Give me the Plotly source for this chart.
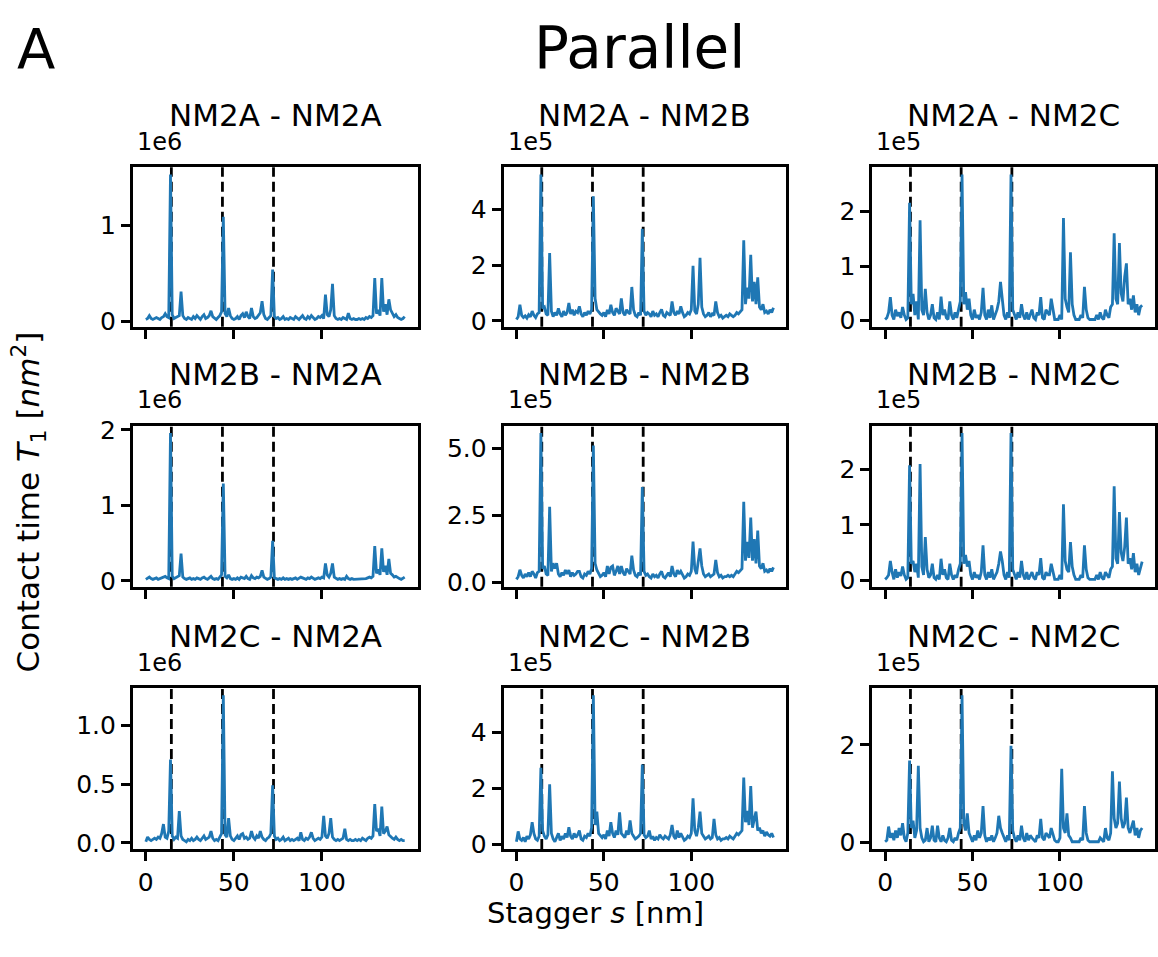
import plotly.graph_objects as go

# ---------------- data ----------------
stagger = list(range(148))  # nm

titles = ["NM2A - NM2A", "NM2A - NM2B", "NM2A - NM2C",
          "NM2B - NM2A", "NM2B - NM2B", "NM2B - NM2C",
          "NM2C - NM2A", "NM2C - NM2B", "NM2C - NM2C"]
offset_labels = ["1e6", "1e5", "1e5", "1e6", "1e5", "1e5", "1e6", "1e5", "1e5"]

# contact times, in units of the panel's offset label
t_aa = [0.02,0.03,0.06,0.03,0.02,0.03,0.04,0.03,0.02,0.04,
        0.05,0.08,0.05,0.04,1.53,0.07,0.03,0.04,0.05,0.06,
        0.31,0.06,0.03,0.02,0.04,0.03,0.02,0.05,0.03,0.06,
        0.04,0.02,0.05,0.07,0.03,0.04,0.06,0.11,0.05,0.03,
        0.02,0.04,0.06,0.10,1.09,0.08,0.05,0.14,0.06,0.03,
        0.02,0.03,0.05,0.02,0.06,0.08,0.04,0.10,0.05,0.03,
        0.14,0.05,0.03,0.04,0.06,0.09,0.21,0.07,0.03,0.02,
        0.04,0.06,0.54,0.05,0.03,0.04,0.02,0.03,0.05,0.02,
        0.03,0.02,0.04,0.03,0.02,0.05,0.03,0.02,0.04,0.06,
        0.03,0.02,0.05,0.03,0.06,0.04,0.02,0.03,0.05,0.04,
        0.06,0.03,0.28,0.07,0.05,0.12,0.39,0.06,0.03,0.02,
        0.03,0.02,0.04,0.03,0.02,0.085,0.03,0.02,0.03,0.02,
        0.02,0.03,0.02,0.03,0.02,0.04,0.03,0.05,0.04,0.06,
        0.45,0.08,0.12,0.06,0.45,0.10,0.18,0.07,0.23,0.12,
        0.09,0.05,0.07,0.04,0.03,0.02,0.03,0.05]
t_ab = [0.05,0.15,0.58,0.20,0.12,0.18,0.10,0.22,0.15,0.35,
        0.20,0.12,0.25,0.30,5.27,0.45,0.50,0.25,0.20,2.44,
        0.35,0.15,0.30,0.20,0.45,0.25,0.15,0.35,0.20,0.30,
        0.64,0.25,0.40,0.20,0.35,0.30,0.52,0.25,0.15,0.30,
        0.20,0.35,0.25,0.40,4.48,0.81,0.40,0.30,0.25,0.20,
        0.30,0.15,0.40,0.25,0.58,0.30,0.20,0.45,0.35,0.25,
        0.81,0.30,0.20,0.40,0.30,0.25,1.22,0.40,0.20,0.15,
        0.30,0.20,3.31,0.35,0.20,0.30,0.25,0.15,0.35,0.20,
        0.25,0.15,0.30,0.41,0.20,0.15,0.30,0.25,0.20,0.70,
        0.30,0.20,0.35,0.25,0.52,0.30,0.15,0.20,0.30,0.25,
        0.40,1.98,0.35,0.25,0.60,2.27,0.50,0.25,0.15,0.20,
        0.30,0.15,0.25,0.20,0.70,0.30,0.15,0.20,0.10,0.15,
        0.20,0.15,0.25,0.20,0.15,0.20,0.30,0.25,0.35,0.40,
        2.90,0.60,1.20,0.80,2.38,0.70,1.40,0.60,1.57,0.50,
        0.40,0.60,0.30,0.35,0.25,0.40,0.30,0.47]
t_ac = [0.02,0.05,0.15,0.43,0.10,0.02,0.20,0.08,0.15,0.05,
        0.25,0.10,0.02,0.05,2.16,0.30,0.49,0.10,0.35,0.02,
        1.84,0.20,0.10,0.58,0.15,0.02,0.10,0.30,0.05,0.02,
        0.15,0.02,0.44,0.10,0.20,0.05,0.02,0.35,0.10,0.02,
        0.15,0.05,0.20,0.35,2.68,0.30,0.52,0.20,0.40,0.10,
        0.02,0.20,0.05,0.10,0.02,0.15,0.60,0.10,0.02,0.20,
        0.05,0.28,0.02,0.10,0.20,0.35,0.71,0.40,0.10,0.02,
        0.15,0.05,2.68,0.20,0.10,0.02,0.15,0.05,0.30,0.10,
        0.02,0.15,0.02,0.10,0.20,0.05,0.02,0.15,0.10,0.43,
        0.05,0.02,0.20,0.15,0.10,0.40,0.20,0.02,0.02,0.02,
        0.10,0.02,1.88,0.40,0.25,0.15,1.25,0.30,0.10,0.02,
        0.02,0.02,0.10,0.05,0.62,0.20,0.05,0.02,0.02,0.02,
        0.02,0.10,0.02,0.15,0.05,0.02,0.20,0.10,0.05,0.25,
        0.30,1.60,0.40,0.30,1.42,0.50,0.35,0.80,1.05,0.30,
        0.40,0.20,0.46,0.15,0.30,0.10,0.25,0.28]
t_ba = [0.02,0.03,0.05,0.03,0.02,0.03,0.04,0.02,0.03,0.04,
        0.05,0.06,0.04,0.03,1.96,0.06,0.03,0.04,0.05,0.07,
        0.36,0.05,0.03,0.02,0.03,0.04,0.02,0.03,0.02,0.04,
        0.03,0.02,0.04,0.05,0.03,0.02,0.04,0.06,0.03,0.02,
        0.03,0.02,0.05,0.08,1.29,0.06,0.04,0.08,0.03,0.02,
        0.03,0.02,0.04,0.02,0.05,0.04,0.03,0.06,0.03,0.02,
        0.07,0.04,0.03,0.05,0.04,0.06,0.14,0.05,0.03,0.02,
        0.03,0.05,0.53,0.04,0.03,0.02,0.03,0.02,0.04,0.02,
        0.03,0.02,0.03,0.02,0.03,0.04,0.02,0.03,0.05,0.04,
        0.03,0.02,0.04,0.03,0.05,0.03,0.02,0.03,0.04,0.03,
        0.05,0.04,0.23,0.08,0.05,0.10,0.23,0.05,0.03,0.02,
        0.03,0.02,0.03,0.02,0.06,0.03,0.02,0.03,0.02,0.02,
        0.02,0.03,0.02,0.03,0.02,0.03,0.04,0.05,0.04,0.06,
        0.46,0.10,0.15,0.08,0.43,0.12,0.20,0.08,0.29,0.10,
        0.08,0.05,0.06,0.04,0.03,0.02,0.04,0.05]
t_bb = [0.10,0.20,0.46,0.25,0.15,0.30,0.20,0.35,0.20,0.40,
        0.30,0.15,0.35,0.40,5.57,0.50,0.60,0.30,0.25,2.81,
        0.40,0.70,0.50,0.70,0.30,0.20,0.35,0.25,0.45,0.30,
        0.45,0.20,0.35,0.25,0.30,0.40,0.40,0.20,0.15,0.30,
        0.25,0.40,0.30,0.50,5.10,0.70,0.45,0.30,0.20,0.25,
        0.35,0.20,0.60,0.30,0.55,0.60,0.25,0.40,0.60,0.30,
        0.60,0.35,0.25,0.50,0.40,0.30,0.99,0.45,0.25,0.20,
        0.35,0.25,3.55,0.40,0.25,0.30,0.20,0.15,0.30,0.20,
        0.25,0.15,0.30,0.40,0.20,0.15,0.25,0.35,0.20,0.60,
        0.30,0.20,0.45,0.30,0.40,0.25,0.15,0.20,0.30,0.25,
        0.40,1.51,0.50,0.30,0.90,1.26,0.60,0.30,0.20,0.25,
        0.30,0.20,0.25,0.30,0.83,0.35,0.20,0.25,0.15,0.20,
        0.20,0.25,0.20,0.25,0.20,0.30,0.40,0.35,0.45,0.50,
        3.00,0.80,1.50,0.90,2.41,0.80,1.60,0.70,1.92,0.60,
        0.50,0.70,0.40,0.45,0.35,0.50,0.40,0.55]
t_bc = [0.02,0.05,0.10,0.35,0.15,0.02,0.20,0.05,0.15,0.08,
        0.25,0.10,0.02,0.05,2.07,0.30,0.35,0.15,0.30,0.05,
        2.09,0.25,0.10,0.78,0.20,0.05,0.10,0.30,0.05,0.02,
        0.10,0.02,0.39,0.10,0.20,0.05,0.02,0.30,0.10,0.02,
        0.10,0.05,0.20,0.30,2.65,0.30,0.46,0.25,0.35,0.10,
        0.02,0.15,0.05,0.10,0.02,0.15,0.63,0.10,0.02,0.15,
        0.05,0.20,0.02,0.10,0.15,0.30,0.52,0.35,0.10,0.02,
        0.15,0.05,2.65,0.20,0.10,0.02,0.15,0.05,0.35,0.10,
        0.02,0.15,0.02,0.10,0.15,0.05,0.02,0.15,0.10,0.40,
        0.05,0.02,0.15,0.10,0.10,0.30,0.15,0.02,0.02,0.02,
        0.10,0.02,1.37,0.35,0.20,0.15,0.69,0.25,0.10,0.02,
        0.02,0.02,0.10,0.05,0.63,0.20,0.05,0.02,0.02,0.02,
        0.02,0.10,0.02,0.15,0.05,0.02,0.15,0.10,0.05,0.20,
        0.25,1.69,0.40,0.30,1.23,0.50,0.35,0.60,1.13,0.30,
        0.40,0.20,0.49,0.15,0.30,0.10,0.25,0.34]
t_ca = [0.01,0.05,0.03,0.02,0.03,0.04,0.03,0.05,0.04,0.08,
        0.16,0.05,0.04,0.10,0.71,0.06,0.03,0.05,0.04,0.27,
        0.06,0.03,0.02,0.01,0.03,0.02,0.04,0.02,0.03,0.05,
        0.03,0.02,0.04,0.06,0.03,0.04,0.05,0.10,0.04,0.02,
        0.03,0.02,0.05,0.08,1.255,0.07,0.05,0.21,0.06,0.03,
        0.02,0.04,0.06,0.03,0.07,0.08,0.04,0.05,0.03,0.04,
        0.10,0.05,0.03,0.06,0.04,0.10,0.05,0.03,0.02,0.04,
        0.05,0.08,0.49,0.06,0.03,0.04,0.02,0.03,0.05,0.02,
        0.03,0.04,0.02,0.03,0.02,0.03,0.04,0.02,0.09,0.03,
        0.02,0.04,0.03,0.05,0.09,0.04,0.02,0.03,0.04,0.03,
        0.05,0.23,0.06,0.04,0.08,0.21,0.05,0.03,0.02,0.03,
        0.02,0.03,0.04,0.12,0.03,0.02,0.03,0.02,0.02,0.03,
        0.02,0.03,0.02,0.04,0.03,0.02,0.04,0.05,0.04,0.06,
        0.33,0.10,0.12,0.06,0.31,0.08,0.10,0.14,0.07,0.05,
        0.04,0.03,0.05,0.03,0.02,0.03,0.02,0.02]
t_cb = [0.10,0.47,0.20,0.15,0.25,0.10,0.30,0.20,0.35,0.80,
        0.40,0.20,0.15,0.30,2.74,0.50,0.30,0.20,0.35,2.15,
        0.40,0.20,0.10,0.25,0.40,0.15,0.30,0.20,0.40,0.25,
        0.62,0.30,0.20,0.40,0.25,0.35,0.50,0.20,0.15,0.30,
        0.25,0.40,0.30,0.60,5.33,0.70,1.18,0.40,0.30,0.25,
        0.35,0.20,0.50,0.30,0.80,0.40,0.25,0.50,0.35,1.15,
        0.40,0.30,0.25,0.50,0.35,0.86,0.40,0.30,0.20,0.25,
        0.30,0.40,2.86,0.35,0.25,0.30,0.50,0.20,0.30,0.15,
        0.25,0.20,0.35,0.25,0.20,0.30,0.25,0.20,0.35,0.70,
        0.30,0.20,0.50,0.25,0.40,0.30,0.15,0.20,0.30,0.25,
        0.40,1.65,0.50,0.30,0.60,1.18,0.40,0.30,0.20,0.25,
        0.30,0.20,0.25,0.92,0.35,0.20,0.25,0.15,0.20,0.20,
        0.25,0.20,0.30,0.25,0.20,0.30,0.40,0.35,0.45,0.50,
        2.39,0.80,1.20,0.70,2.09,0.60,0.90,1.18,0.50,0.60,
        0.40,0.50,0.30,0.45,0.35,0.30,0.40,0.25]
t_cc = [0.02,0.05,0.33,0.10,0.20,0.05,0.25,0.10,0.30,0.15,
        0.40,0.10,0.02,0.20,1.68,0.30,0.45,0.10,0.25,1.57,
        0.30,0.10,0.02,0.05,0.30,0.02,0.10,0.35,0.05,0.02,
        0.35,0.10,0.02,0.15,0.05,0.02,0.10,0.30,0.05,0.02,
        0.10,0.05,0.20,0.30,3.01,0.40,0.25,0.60,0.20,0.10,
        0.02,0.15,0.05,0.25,0.10,0.20,0.75,0.15,0.02,0.10,
        0.05,0.15,0.02,0.10,0.20,0.55,0.30,0.20,0.10,0.02,
        0.15,0.05,1.98,0.25,0.10,0.02,0.15,0.05,0.35,0.10,
        0.02,0.20,0.05,0.15,0.10,0.05,0.02,0.15,0.10,0.49,
        0.10,0.05,0.20,0.15,0.10,0.30,0.15,0.05,0.02,0.02,
        0.10,1.51,0.30,0.20,0.60,0.15,0.10,0.02,0.02,0.02,
        0.02,0.02,0.10,0.05,0.75,0.20,0.05,0.02,0.02,0.02,
        0.02,0.02,0.02,0.10,0.05,0.02,0.30,0.10,0.05,0.20,
        1.46,0.50,0.30,0.40,1.25,0.50,0.30,0.40,0.92,0.30,
        0.20,0.35,0.45,0.15,0.30,0.10,0.25,0.30]

series = [t_aa, t_ab, t_ac, t_ba, t_bb, t_bc, t_ca, t_cb, t_cc]

ytick_vals = [[0, 1], [0, 2, 4], [0, 1, 2],
              [0, 1, 2], [0, 2.5, 5.0], [0, 1, 2],
              [0, 0.5, 1.0], [0, 2, 4], [0, 2]]
ytick_text = [["0", "1"], ["0", "2", "4"], ["0", "1", "2"],
              ["0", "1", "2"], ["0.0", "2.5", "5.0"], ["0", "1", "2"],
              ["0.0", "0.5", "1.0"], ["0", "2", "4"], ["0", "2"]]
xtick_vals = [0, 50, 100]
xtick_text = ["0", "50", "100"]
dash_positions = [14.5, 43.5, 72.5]

# ---------------- layout geometry (pixels) ----------------
W, H = 1158, 957
col_px = [(133, 418), (504, 787), (873, 1156)]
row_px = [(160.5, 323.5), (424.5, 589), (692.5, 857)]
FONT = "DejaVu Sans"
BLUE = "#1f77b4"

fig = go.Figure()
layout = dict(width=W, height=H, margin=dict(l=0, r=0, t=0, b=0),
              paper_bgcolor="white", plot_bgcolor="white",
              showlegend=False, font=dict(family=FONT, color="black", size=24))
annotations = []
shapes = []

xmin, xmax = min(stagger), max(stagger)
xpad = 0.05 * (xmax - xmin)

for i, ys in enumerate(series):
    r, c = divmod(i, 3)
    n = i + 1
    xa = "xaxis" if n == 1 else f"xaxis{n}"
    ya = "yaxis" if n == 1 else f"yaxis{n}"
    xr = "x" if n == 1 else f"x{n}"
    yr = "y" if n == 1 else f"y{n}"
    x0, x1 = col_px[c]
    y0, y1 = row_px[r]
    lo, hi = min(ys), max(ys)
    ypad = 0.05 * (hi - lo)

    common = dict(showline=True, mirror=True, linecolor="black", linewidth=2.8,
                  ticks="outside", ticklen=9, tickwidth=2.8, tickcolor="black",
                  showgrid=False, zeroline=False,
                  tickfont=dict(family=FONT, size=25, color="black"))
    layout[xa] = dict(domain=[x0 / W, x1 / W], anchor=yr,
                      range=[xmin - xpad, xmax + xpad],
                      tickvals=xtick_vals, ticktext=xtick_text,
                      showticklabels=(r == 2), **common)
    layout[ya] = dict(domain=[1 - y1 / H, 1 - y0 / H], anchor=xr,
                      range=[lo - ypad, hi + ypad],
                      tickvals=ytick_vals[i], ticktext=ytick_text[i], **common)

    for d in dash_positions:
        shapes.append(dict(type="line", xref=xr, yref=f"{yr} domain",
                           x0=d, x1=d, y0=0, y1=1, layer="below",
                           line=dict(color="black", width=2.8, dash="10px,5px")))

    fig.add_trace(go.Scatter(x=stagger, y=ys, mode="lines", xaxis=xr, yaxis=yr,
                             line=dict(color=BLUE, width=2.8)))

    annotations.append(dict(text=titles[i], x=(x0 + x1) / 2 / W, y=1 - (y0 - 53) / H,
                            xref="paper", yref="paper", xanchor="center", yanchor="middle",
                            showarrow=False, font=dict(family=FONT, size=31, color="black")))
    annotations.append(dict(text=offset_labels[i], x=(x0 + 2) / W, y=1 - (y0 - 26) / H,
                            xref="paper", yref="paper", xanchor="left", yanchor="middle",
                            showarrow=False, font=dict(family=FONT, size=24, color="black")))

annotations.append(dict(text="A", x=15 / W, y=1 - 39 / H, xref="paper", yref="paper",
                        xanchor="left", yanchor="middle", showarrow=False,
                        font=dict(family=FONT, size=56, color="black")))
annotations.append(dict(text="Parallel", x=640 / W, y=1 - 39 / H, xref="paper", yref="paper",
                        xanchor="center", yanchor="middle", showarrow=False,
                        font=dict(family=FONT, size=58, color="black")))
annotations.append(dict(text="Contact time <i>T</i><sub>1</sub> [<i>nm</i><sup>2</sup>]",
                        x=29 / W, y=1 - 502 / H, xref="paper", yref="paper",
                        xanchor="center", yanchor="middle", textangle=-90, showarrow=False,
                        font=dict(family=FONT, size=31, color="black")))
annotations.append(dict(text="Stagger <i>s</i> [nm]", x=596 / W, y=1 - 922 / H,
                        xref="paper", yref="paper", xanchor="center", yanchor="middle",
                        showarrow=False, font=dict(family=FONT, size=29, color="black")))

layout["annotations"] = annotations
layout["shapes"] = shapes
fig.update_layout(**layout)
fig.write_html("out.html")
